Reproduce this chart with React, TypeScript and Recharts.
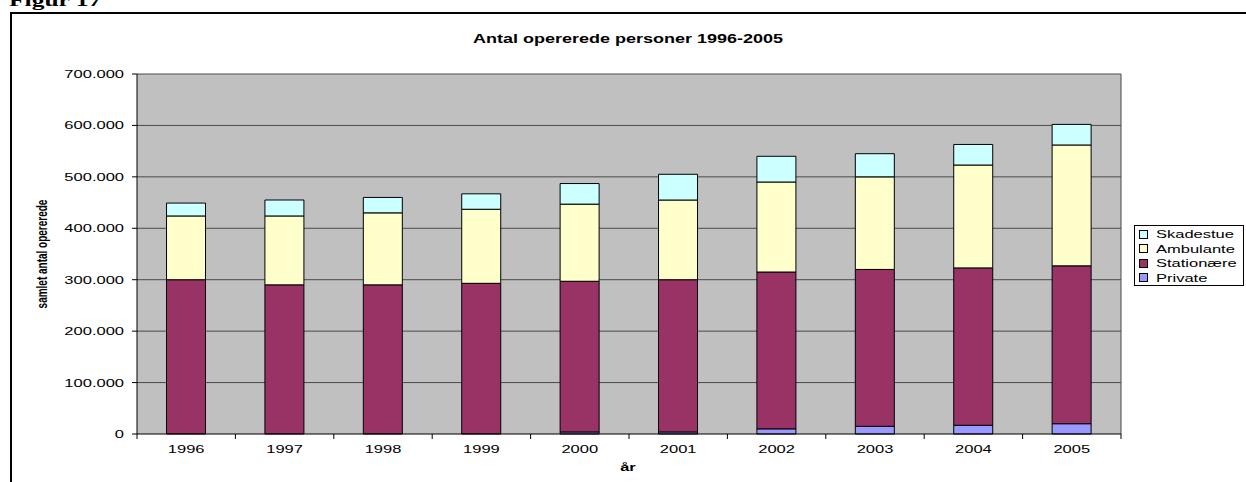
import React from "react";
import { BarChart, Bar, XAxis, YAxis, CartesianGrid } from "recharts";

const years = ["1996", "1997", "1998", "1999", "2000", "2001", "2002", "2003", "2004", "2005"];
const privateOps = [0, 0, 0, 0, 4000, 4000, 10000, 15000, 17000, 20000];
const stationaere = [300000, 290000, 290000, 293000, 293000, 296000, 305000, 305000, 306000, 307000];
const ambulante = [124000, 134000, 140000, 144000, 150000, 155000, 175000, 180000, 200000, 235000];
const skadestue = [25000, 31000, 30000, 30000, 40000, 50000, 50000, 45000, 40000, 40000];
const yTicks = [0, 100000, 200000, 300000, 400000, 500000, 600000, 700000];

const legendItems = [
  { name: "Skadestue", color: "#CCFFFF" },
  { name: "Ambulante", color: "#FFFFCC" },
  { name: "Stationære", color: "#993366" },
  { name: "Private", color: "#9999FF" },
];

const data = years.map((year, i) => ({
  year,
  Private: privateOps[i],
  Stationaere: stationaere[i],
  Ambulante: ambulante[i],
  Skadestue: skadestue[i],
}));

const FONT = "'Liberation Sans', Arial, sans-serif";
const STRETCH = 1.5; // the original chart is stretched sideways, text too
const PLOT_LEFT = 137;
const PLOT_RIGHT = 1121;
const PLOT_TOP = 74;
const PLOT_BOTTOM = 434;
const BAND = (PLOT_RIGHT - PLOT_LEFT) / years.length;

const formatY = (v: number) => (v === 0 ? "0" : `${v / 1000}.000`);

function YearTick(props: any) {
  const { x, payload, index } = props;
  return (
    <g>
      <line x1={x - BAND / 2} x2={x - BAND / 2} y1={PLOT_BOTTOM} y2={PLOT_BOTTOM + 5} stroke="#000" />
      {index === years.length - 1 && (
        <line x1={x + BAND / 2} x2={x + BAND / 2} y1={PLOT_BOTTOM} y2={PLOT_BOTTOM + 5} stroke="#000" />
      )}
      <text
        transform={`translate(${x},${PLOT_BOTTOM + 19}) scale(${STRETCH},1)`}
        textAnchor="middle"
        fontSize={11}
        fontFamily={FONT}
        fill="#000"
      >
        {payload.value}
      </text>
    </g>
  );
}

function ValueTick(props: any) {
  const { x, y, payload } = props;
  return (
    <text
      transform={`translate(${x},${y}) scale(${STRETCH},1)`}
      dy="0.36em"
      textAnchor="end"
      fontSize={11}
      fontFamily={FONT}
      fill="#000"
    >
      {formatY(payload.value)}
    </text>
  );
}

function YLabel() {
  return (
    <text
      transform={`translate(42,254) scale(${STRETCH},1) rotate(-90)`}
      textAnchor="middle"
      dy="0.35em"
      fontSize={10}
      fontWeight="bold"
      fontFamily={FONT}
      fill="#000"
    >
      samlet antal opererede
    </text>
  );
}

const stretched = (origin: string): React.CSSProperties => ({
  transform: `scaleX(${STRETCH})`,
  transformOrigin: origin,
});

export default function App() {
  return (
    <div style={{ position: "absolute", left: 0, top: 0, width: 1246, height: 482, background: "#fff", overflow: "hidden" }}>
      <div
        style={{
          position: "absolute",
          left: 9,
          top: -7,
          fontFamily: "'Liberation Serif', 'Times New Roman', serif",
          fontWeight: "bold",
          fontSize: 17,
          lineHeight: "16px",
          whiteSpace: "nowrap",
          ...stretched("left"),
        }}
      >
        Figur 17
      </div>
      <div
        style={{
          position: "absolute",
          left: 10,
          top: 12,
          width: 1260,
          height: 500,
          borderLeft: "2px solid #000",
          borderTop: "2px solid #000",
        }}
      />
      <div
        style={{
          position: "absolute",
          left: 0,
          width: 1256,
          top: 32,
          textAlign: "center",
          fontFamily: FONT,
          fontWeight: "bold",
          fontSize: 12,
          ...stretched("628px 50%"),
        }}
      >
        Antal opererede personer 1996-2005
      </div>
      <div style={{ position: "absolute", left: 0, top: 0 }}>
        <BarChart
          width={1246}
          height={482}
          data={data}
          barCategoryGap="30%"
          margin={{ top: PLOT_TOP, left: PLOT_LEFT - 60, right: 1246 - PLOT_RIGHT, bottom: 482 - PLOT_BOTTOM - 30 }}
        >
          <CartesianGrid
            fill="#C0C0C0"
            stroke="#4a4a4a"
            vertical={true}
            verticalCoordinatesGenerator={({ offset }: any) => [offset.left + offset.width]}
            horizontalCoordinatesGenerator={({ offset }: any) =>
              yTicks.slice(1).map((t) => offset.top + offset.height * (1 - t / 700000))
            }
          />
          <XAxis
            dataKey="year"
            height={30}
            axisLine={{ stroke: "#000" }}
            tickLine={false}
            tick={<YearTick />}
            interval={0}
          />
          <YAxis
            width={60}
            domain={[0, 700000]}
            ticks={yTicks}
            axisLine={{ stroke: "#000" }}
            tickLine={{ stroke: "#000" }}
            tickSize={5}
            tickMargin={8}
            tick={<ValueTick />}
            label={<YLabel />}
          />
          <Bar dataKey="Private" stackId="a" fill="#9999FF" stroke="#000" strokeWidth={1} isAnimationActive={false} />
          <Bar dataKey="Stationaere" stackId="a" fill="#993366" stroke="#000" strokeWidth={1} isAnimationActive={false} />
          <Bar dataKey="Ambulante" stackId="a" fill="#FFFFCC" stroke="#000" strokeWidth={1} isAnimationActive={false} />
          <Bar dataKey="Skadestue" stackId="a" fill="#CCFFFF" stroke="#000" strokeWidth={1} isAnimationActive={false} />
        </BarChart>
      </div>
      <div
        style={{
          position: "absolute",
          left: 0,
          width: 1256,
          top: 461,
          textAlign: "center",
          fontFamily: FONT,
          fontWeight: "bold",
          fontSize: 11,
          ...stretched("628px 50%"),
        }}
      >
        år
      </div>
      <div
        style={{
          position: "absolute",
          left: 1134,
          top: 225,
          width: 104,
          height: 58,
          border: "1px solid #000",
          background: "#fff",
          padding: "1px 0 0 4px",
          fontFamily: FONT,
          fontSize: 11,
          lineHeight: "14.5px",
        }}
      >
        {legendItems.map((item) => (
          <div key={item.name} style={{ display: "flex", alignItems: "center", height: 14.5 }}>
            <span
              style={{
                display: "inline-block",
                flex: "none",
                width: 7,
                height: 7,
                border: "1px solid #000",
                background: item.color,
                marginRight: 8,
              }}
            />
            <span style={{ whiteSpace: "nowrap", ...stretched("left") }}>{item.name}</span>
          </div>
        ))}
      </div>
    </div>
  );
}
